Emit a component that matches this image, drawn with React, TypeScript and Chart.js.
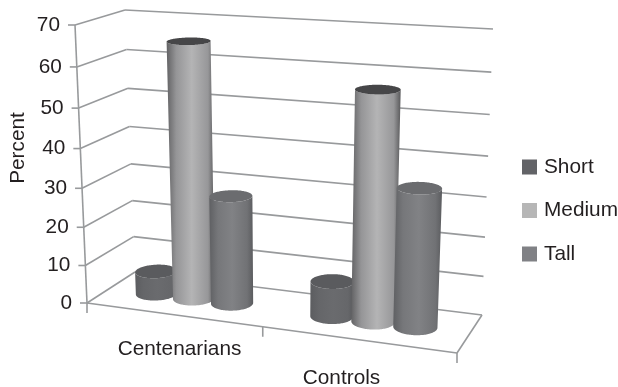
import { useEffect, useRef } from "react";
import { Chart, registerables } from "chart.js";

Chart.register(...registerables);

const categories = ["Centenarians", "Controls"];
const shortValues = [6, 9];
const mediumValues = [65.5, 57];
const tallValues = [28, 34.5];
const valueMax = 70;
const valueStep = 10;
const seriesColors = ["#626367", "#b6b6b6", "#808185"];
const capColors = ["#5a5b5e", "#464648", "#6b6c6f"];
// Left-to-right shading across each cylinder's body.
const bodyShades = [
  ["#5c5d60", "#656669", "#6a6b6e", "#66676a", "#58595c"],
  ["#626264", "#959597", "#b4b4b5", "#979799", "#59595b"],
  ["#5f6063", "#76777a", "#818285", "#717275", "#5b5c5f"],
];
const shadeStops = [0, 0.2, 0.52, 0.86, 1];
const FONT = '20.8px "Liberation Sans", Arial, sans-serif';
const TEXT = "#231f20";
const GRID = "#989a9c";

type Pt = { x: number; y: number };

// Corners of the box the columns stand in: front/back, left/right, floor/ceiling.
const FL0 = { x: 87, y: 303 };
const FR0 = { x: 457, y: 353 };
const BL0 = { x: 135, y: 272 };
const BR0 = { x: 482, y: 315 };
const FL1 = { x: 75, y: 25 };
const FR1 = { x: 470, y: 49 };
const BL1 = { x: 125, y: 10 };
const BR1 = { x: 493, y: 29 };

const lerp = (a: Pt, b: Pt, t: number): Pt => ({ x: a.x + (b.x - a.x) * t, y: a.y + (b.y - a.y) * t });

// u: along the category axis, z: depth (0 front, 1 back), v: share of the value axis.
// The two small correction terms stand in for perspective foreshortening.
function project(u: number, z: number, v: number): Pt {
  const uu = u - 0.1 * u * (1 - u);
  const vv = v - 0.065 * v * (1 - v);
  const floor = lerp(lerp(FL0, FR0, uu), lerp(BL0, BR0, uu), z);
  const ceil = lerp(lerp(FL1, FR1, uu), lerp(BL1, BR1, uu), z);
  return lerp(floor, ceil, vv);
}

const Z_CENTER = 0.5;
const Z_RADIUS = 0.21;
const RING_STEPS = 120;

function ring(u: number, ru: number, v: number): Pt[] {
  const pts: Pt[] = [];
  for (let i = 0; i < RING_STEPS; i++) {
    const t = (i / RING_STEPS) * Math.PI * 2;
    pts.push(project(u + ru * Math.cos(t), Z_CENTER + Z_RADIUS * Math.sin(t), v));
  }
  return pts;
}

const extremeIndex = (pts: Pt[], sign: number) => {
  let best = 0;
  pts.forEach((p, i) => {
    if (sign * p.x > sign * pts[best].x) best = i;
  });
  return best;
};

// Ring points from index a forward to index b, wrapping round the ring.
function arc(pts: Pt[], a: number, b: number): Pt[] {
  const out: Pt[] = [];
  for (let i = a; ; i = (i + 1) % pts.length) {
    out.push(pts[i]);
    if (i === b) break;
  }
  return out;
}

function drawCylinder(ctx: CanvasRenderingContext2D, u: number, ru: number, v: number, ds: number) {
  const top = ring(u, ru, v);
  const bottom = ring(u, ru, 0);
  const topL = extremeIndex(top, -1);
  const topR = extremeIndex(top, 1);
  const botL = extremeIndex(bottom, -1);
  const botR = extremeIndex(bottom, 1);
  const minX = Math.min(top[topL].x, bottom[botL].x);
  const maxX = Math.max(top[topR].x, bottom[botR].x);
  const grad = ctx.createLinearGradient(minX, 0, maxX, 0);
  shadeStops.forEach((s, i) => grad.addColorStop(s, bodyShades[ds][i]));
  ctx.save();
  ctx.fillStyle = grad;
  ctx.beginPath();
  // Near half of the floor ring, then up the right side and back across the top ring.
  arc(bottom, botL, botR).forEach((p, i) => (i ? ctx.lineTo(p.x, p.y) : ctx.moveTo(p.x, p.y)));
  arc(top, topL, topR)
    .reverse()
    .forEach((p) => ctx.lineTo(p.x, p.y));
  ctx.closePath();
  ctx.fill();
  ctx.beginPath();
  top.forEach((p, i) => (i ? ctx.lineTo(p.x, p.y) : ctx.moveTo(p.x, p.y)));
  ctx.closePath();
  ctx.fillStyle = capColors[ds];
  ctx.fill();
  ctx.restore();
}

const scenePlugin = {
  id: "scene",
  beforeDatasetsDraw(chart: any) {
    const { ctx, scales, chartArea } = chart;
    const y = scales.y;
    const x = scales.x;
    const share = (val: number) => (val - y.min) / (y.max - y.min);
    ctx.save();
    ctx.strokeStyle = GRID;
    ctx.lineWidth = 1.6;
    const seg = (a: Pt, b: Pt) => {
      ctx.beginPath();
      ctx.moveTo(a.x, a.y);
      ctx.lineTo(b.x, b.y);
      ctx.stroke();
    };
    ctx.font = FONT;
    ctx.textAlign = "right";
    ctx.textBaseline = "middle";
    y.ticks.forEach((tick: any) => {
      const v = share(tick.value);
      const front = project(0, 0, v);
      const backL = project(0, 1, v);
      const backR = project(1, 1, v);
      seg(front, backL);
      seg(backL, backR);
      seg({ x: front.x - 7, y: front.y }, front);
      ctx.fillStyle = TEXT;
      ctx.fillText(String(tick.value), front.x - 15, front.y);
    });
    seg(project(0, 0, 1), project(0, 0, 0));
    seg(project(0, 0, 0), project(1, 0, 0));
    seg(project(1, 0, 0), project(1, 1, 0));
    // Category ticks sit on the group boundaries along the front floor edge.
    [0, 0.5, 1].forEach((u) => {
      const p = project(u, 0, 0);
      seg(p, { x: p.x, y: p.y + 10 });
    });
    ctx.textAlign = "center";
    ctx.fillStyle = TEXT;
    x.getLabels().forEach((label: string, i: number) => {
      const u = (x.getPixelForValue(i) - chartArea.left) / chartArea.width;
      ctx.fillText(label, 98.5 + 324 * u, 335 + 58 * u);
    });
    ctx.save();
    ctx.translate(18, 148);
    ctx.rotate(-Math.PI / 2);
    ctx.fillText(y.options.title.text, 0, 0);
    ctx.restore();
    ctx.restore();

    // Each bar's laid-out position and height become a cylinder inside the box,
    // painted left to right so that later series overlap earlier ones.
    chart.data.datasets.forEach((_: any, index: number) => {
      chart.getDatasetMeta(index).data.forEach((el: any) => {
        const u = (el.x - chartArea.left) / chartArea.width;
        const ru = el.width / 2 / chartArea.width;
        const v = (y.bottom - el.y) / y.height;
        drawCylinder(ctx, u, ru, v, index);
      });
    });
  },
  beforeDatasetDraw() {
    return false;
  },
  afterDraw(chart: any) {
    const { ctx, data } = chart;
    ctx.save();
    ctx.font = FONT;
    ctx.textAlign = "left";
    ctx.textBaseline = "middle";
    data.datasets.forEach((ds: any, i: number) => {
      const cy = 167 + i * 43.5;
      ctx.fillStyle = ds.backgroundColor;
      ctx.fillRect(522, cy - 7.5, 15, 15);
      ctx.fillStyle = TEXT;
      ctx.fillText(ds.label, 544, cy);
    });
    ctx.restore();
  },
};

export default function App() {
  const ref = useRef<HTMLCanvasElement>(null);
  useEffect(() => {
    document.body.style.margin = "0";
    const chart = new Chart(ref.current!, {
      type: "bar",
      data: {
        labels: categories,
        datasets: [
          { label: "Short", data: shortValues, backgroundColor: seriesColors[0] },
          { label: "Medium", data: mediumValues, backgroundColor: seriesColors[1] },
          { label: "Tall", data: tallValues, backgroundColor: seriesColors[2] },
        ],
      },
      options: {
        responsive: false,
        animation: false,
        layout: { padding: 0 },
        datasets: { bar: { barPercentage: 1, categoryPercentage: 0.665 } },
        scales: {
          x: { display: false },
          y: {
            display: false,
            min: 0,
            max: valueMax,
            ticks: { stepSize: valueStep },
            title: { display: false, text: "Percent" },
          },
        },
        plugins: { legend: { display: false }, tooltip: { enabled: false } },
      },
      plugins: [scenePlugin],
    } as any);
    return () => chart.destroy();
  }, []);
  return <canvas ref={ref} width={618} height={387} style={{ display: "block" }} />;
}
